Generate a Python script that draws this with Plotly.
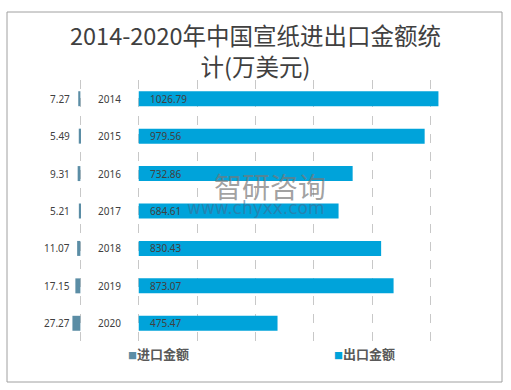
import plotly.graph_objects as go

years = ["2014", "2015", "2016", "2017", "2018", "2019", "2020"]
imports = [7.27, 5.49, 9.31, 5.21, 11.07, 17.15, 27.27]
exports = [1026.79, 979.56, 732.86, 684.61, 830.43, 873.07, 475.47]
series_names = ["进口金额", "出口金额"]

GAP = 200  # axis units between the two bar groups (year column)
IMP_COLOR = "#5B8DA5"
EXP_COLOR = "#00A3DA"
TXT = "#404040"
NUM_FONT = dict(family="Noto Sans, Open Sans, sans-serif", size=10, color=TXT)

fig = go.Figure()
fig.add_trace(go.Bar(
    y=years, x=[-v for v in imports], orientation="h", name=series_names[0],
    marker=dict(color=IMP_COLOR, line=dict(width=0)), showlegend=False,
    customdata=imports, hovertemplate="%{y}: %{customdata}<extra>进口金额</extra>",
))
fig.add_trace(go.Bar(
    y=years, x=exports, base=[GAP] * len(years), orientation="h", name=series_names[1],
    marker=dict(color=EXP_COLOR, line=dict(width=0)), showlegend=False,
    hovertemplate="%{y}: %{x}<extra>出口金额</extra>",
))

ann = []
lab_x = -max(imports) - 1
for i, (y, iv, ev) in enumerate(zip(years, imports, exports)):
    # category axis: annotation y given as category index
    ann.append(dict(x=lab_x, y=i, xref="x", yref="y", text=f"{iv:.2f}", showarrow=False,
                    xanchor="right", font=NUM_FONT))
    ann.append(dict(x=GAP / 2, y=i, xref="x", yref="y", text=y, showarrow=False,
                    xanchor="center", font=NUM_FONT))
    ann.append(dict(x=GAP + 30, y=i, xref="x", yref="y", text=f"{ev:.2f}", showarrow=False,
                    xanchor="left", font=NUM_FONT))

# legend drawn as text entries below the plot
for name, col, lx in zip(series_names, [IMP_COLOR, EXP_COLOR], [(126 - 22) / 467, (332 - 22) / 467]):
    ann.append(dict(x=lx, y=(342 - 353) / 262, xref="paper", yref="paper", showarrow=False,
                    xanchor="left", yanchor="middle",
                    text=f"<span style='color:{col};font-size:9px'>■</span>{name}",
                    font=dict(family="Noto Sans CJK SC", size=13, color="#595959", weight="bold")))

# watermark
ann.append(dict(x=(270 - 22) / 467, y=(342 - 186) / 262, xref="paper", yref="paper", text="智研咨询",
                showarrow=False,
                font=dict(family="Noto Sans CJK SC", size=28, color="rgba(120,120,120,0.7)")))
ann.append(dict(x=(256 - 22) / 467, y=(342 - 208) / 262, xref="paper", yref="paper", text="www.chyxx.com",
                showarrow=False,
                font=dict(family="DejaVu Sans", size=17, color="rgba(60,110,150,0.6)")))

fig.update_layout(
    width=511, height=390,
    margin=dict(l=22, r=22, t=80, b=48, autoexpand=False),
    paper_bgcolor="white", plot_bgcolor="white",
    barmode="overlay", bargap=0.6,
    title=dict(text="2014-2020年中国宣纸进出口金额统<br>计(万美元)", x=0.5, xanchor="center",
               y=1 - 45 / 390, yanchor="top",
               font=dict(family="Noto Sans CJK SC", size=23.5, color=TXT)),
    xaxis=dict(range=[-GAP, 1400], tickvals=list(range(-200, 1401, 200)), showticklabels=False,
               showgrid=True, gridcolor="#C8C8C8", griddash="dash", gridwidth=1,
               zeroline=False, showline=False, fixedrange=True),
    yaxis=dict(type="category", range=[6.5, -0.5], showticklabels=False, showgrid=False,
               zeroline=False, showline=False),
    showlegend=False,
    annotations=ann,
    shapes=[dict(type="rect", xref="paper", yref="paper",
                 x0=(7 - 22) / 467, x1=(502 - 22) / 467,
                 y0=(342 - 382) / 262, y1=(342 - 12) / 262,
                 line=dict(color="#A0A0A0", width=1), fillcolor="rgba(0,0,0,0)", layer="above")],
)

fig.write_html("out.html", config={"displayModeBar": False},
               post_script="document.body.style.margin='0';")
